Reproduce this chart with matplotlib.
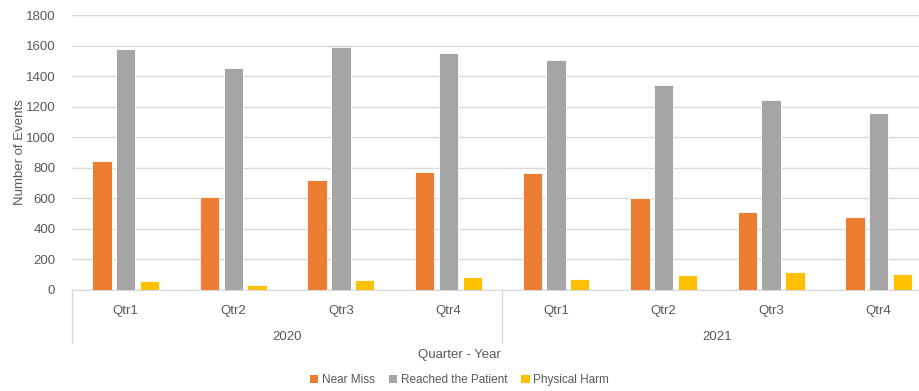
import numpy as np
import matplotlib
matplotlib.use("Agg")
import matplotlib.pyplot as plt
from matplotlib.patches import Patch
from matplotlib.transforms import blended_transform_factory

quarters = ["Qtr1", "Qtr2", "Qtr3", "Qtr4", "Qtr1", "Qtr2", "Qtr3", "Qtr4"]
years = ["2020", "2021"]
near_miss = [846, 609, 722, 772, 766, 602, 510, 478]
reached = [1578, 1453, 1589, 1548, 1503, 1340, 1241, 1158]
harm = [62, 30, 68, 82, 75, 99, 119, 106]

series = [("Near Miss", near_miss, "#ED7D31"),
          ("Reached the Patient", reached, "#A5A5A5"),
          ("Physical Harm", harm, "#FFC000")]

txt = "#595959"
plt.rcParams['font.family'] = ['Liberation Sans', 'DejaVu Sans']

fig = plt.figure(figsize=(9.19, 3.91), dpi=100)
ax = fig.add_axes([72 / 919, 1 - 290 / 391, (932.5 - 72) / 919, 275 / 391])

x = np.arange(len(quarters))
w = 0.18
step = 0.221
for i, (name, vals, col) in enumerate(series):
    ax.bar(x + (i - 1) * step, vals, width=w, color=col, edgecolor="white",
           linewidth=0.6, zorder=3)

ax.set_xlim(-0.5, len(quarters) - 0.5)
ax.set_ylim(0, 1800)
ax.set_yticks(np.arange(0, 1801, 200))
ax.yaxis.grid(True, color="#D9D9D9", linewidth=1, zorder=0)
for s in ["top", "right", "left"]:
    ax.spines[s].set_visible(False)
ax.spines["bottom"].set_color("#D9D9D9")
ax.tick_params(axis="y", length=0, colors=txt, labelsize=9.5, pad=12)
ax.tick_params(axis="x", length=0)
ax.set_xticks([])
ax.set_ylabel("Number of Events", color=txt, fontsize=9.5, labelpad=0)

# two level category axis
tr = blended_transform_factory(ax.transData, fig.transFigure)
def fy(py):
    return 1 - py / 391

for xi, q in zip(x, quarters):
    ax.text(xi, fy(311), q, transform=tr, ha="center", va="center",
            color=txt, fontsize=9.5)
for k, yr in enumerate(years):
    ax.text(1.5 + 4 * k, fy(337), yr, transform=tr, ha="center", va="center",
            color=txt, fontsize=9.5)
for b in [-0.5, 3.5, 7.5]:
    ax.plot([b, b], [fy(290), fy(343)], transform=tr, color="#D9D9D9",
            linewidth=1, clip_on=False)

fig.text(0.5, fy(355), "Quarter - Year", ha="center", va="center",
         color=txt, fontsize=9.5)

handles = [Patch(facecolor=c, edgecolor="none", label=n) for n, _, c in series]
leg = fig.legend(handles=handles, loc="center", bbox_to_anchor=(0.5, fy(380)),
                 ncol=3, frameon=False, fontsize=8.5, handlelength=0.7,
                 handleheight=0.7, handletextpad=0.3, columnspacing=1.2)
for t in leg.get_texts():
    t.set_color(txt)

fig.savefig("out.png", dpi=100)
